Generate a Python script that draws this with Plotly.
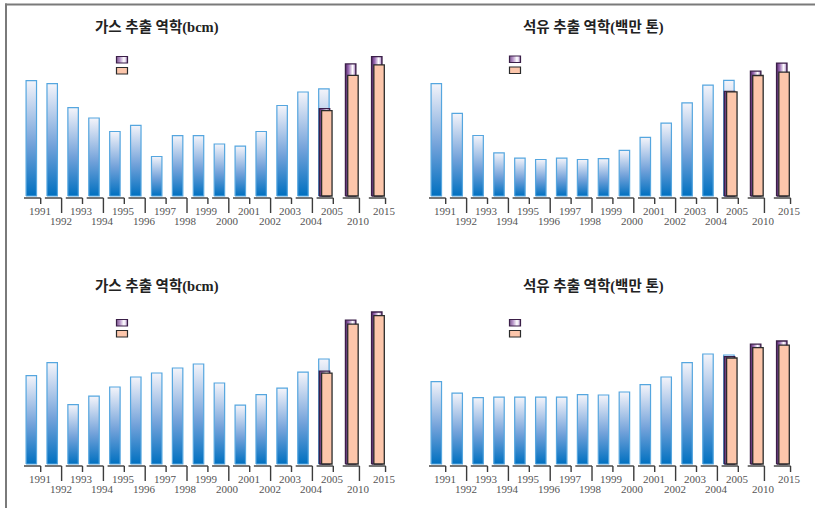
import plotly.graph_objects as go

W, H = 815, 508

# ---- data -------------------------------------------------------------
years_actual = list(range(1991, 2006))
years_forecast = [2005, 2010, 2015]

gas_top_actual = [644, 641, 618, 608, 595, 601, 571, 591, 591, 583, 581, 595, 620, 633, 636]
gas_top_low = [615, 649, 659]
gas_top_high = [617, 660, 667]

oil_top_actual = [463, 401, 355, 319, 308, 305, 308, 305, 307, 324, 351, 381, 423, 460, 470]
oil_top_low = [446, 480, 487]
oil_top_high = [447, 489, 506]

gas_bottom_actual = [44.2, 50.7, 29.7, 33.9, 38.5, 43.5, 45.5, 48.0, 50.0, 40.5, 29.4, 34.7, 37.9, 45.9, 52.5]
gas_bottom_low = [45.4, 69.9, 74.2]
gas_bottom_high = [46.4, 71.9, 76.0]

oil_bottom_actual = [41.2, 35.4, 33.2, 33.4, 33.4, 33.4, 33.4, 34.7, 34.5, 36.0, 39.7, 43.5, 50.7, 55.0, 54.5]
oil_bottom_low = [53.0, 58.2, 59.4]
oil_bottom_high = [53.7, 59.9, 61.5]

title_gas = "가스 추출 역학(bcm)"
title_oil = "석유 추출 역학(백만 톤)"

# ---- styling ----------------------------------------------------------
BLUE_SCALE = [[0, "#0070c0"], [0.45, "#73a2da"], [1, "#f4f4fa"]]
PURPLE_SCALE = [[0, "#55286a"], [0.3, "#9c6db4"], [0.68, "#ffffff"], [0.84, "#d9c5e6"], [1, "#6a3c84"]]
PEACH = "#fcc6ab"
BAR_W = 0.5
FORECAST_STEP = 1.25
LABEL_FONT = dict(family="Liberation Serif, DejaVu Serif, serif", size=11, color="#555555")
# Latin glyphs in a serif face, Hangul falls back to the CJK gothic
TITLE_FONT = dict(family="Liberation Serif, Noto Sans CJK KR, sans-serif", size=14.5, color="#222222")

PX_UNIT = 20.9          # pixels per category slot
BELOW_PX = 34           # room under the baseline for the bracket ticks


def slot(year):
    if year <= 2005:
        return year - 1991
    return 14 + FORECAST_STEP * ((year - 2005) // 5)


def hex2rgb(h):
    h = h.lstrip("#")
    return tuple(int(h[i:i + 2], 16) for i in (0, 2, 4))


def scale_color(scale, t):
    for (a, ca), (b, cb) in zip(scale[:-1], scale[1:]):
        if a <= t <= b:
            f = (t - a) / (b - a) if b > a else 0
            r1, r2 = hex2rgb(ca), hex2rgb(cb)
            return "rgb(%d,%d,%d)" % tuple(round(x + (y - x) * f) for x, y in zip(r1, r2))
    return scale[-1][1]


panels = [
    dict(actual=gas_top_actual, low=gas_top_low, high=gas_top_high, base=533, ppu=1.04,
         xoff=0, baseline=196, title=title_gas, tpos=(156.7, 27.3), lpos=(116.5, 56.5)),
    dict(actual=oil_top_actual, low=oil_top_low, high=oil_top_high, base=229, ppu=0.48,
         xoff=405, baseline=196, title=title_oil, tpos=(593.3, 27.5), lpos=(509.5, 56.0)),
    dict(actual=gas_bottom_actual, low=gas_bottom_low, high=gas_bottom_high, base=0, ppu=2.0,
         xoff=0, baseline=464, title=title_gas, tpos=(156.7, 286.7), lpos=(116.5, 319.5)),
    dict(actual=oil_bottom_actual, low=oil_bottom_low, high=oil_bottom_high, base=0, ppu=2.0,
         xoff=405, baseline=464, title=title_oil, tpos=(593.3, 286.7), lpos=(509.5, 319.5)),
]

fig = go.Figure()
shapes = []
annotations = []
layout_axes = {}


def bar_poly(xc, base, val):
    l, r = xc - BAR_W / 2, xc + BAR_W / 2
    return [l, r, r, l, l], [base, base, val, val, base]


for k, p in enumerate(panels, start=1):
    xa = "x" if k == 1 else "x%d" % k
    ya = "y" if k == 1 else "y%d" % k
    xname = "xaxis" if k == 1 else "xaxis%d" % k
    yname = "yaxis" if k == 1 else "yaxis%d" % k

    left_px, right_px = 10 + p["xoff"], 400 + p["xoff"]
    origin_px = 31.3 + p["xoff"]
    height_px = 160
    base = p["base"]
    ppu = p["ppu"]
    layout_axes[xname] = dict(
        domain=[left_px / W, right_px / W],
        range=[(left_px - origin_px) / PX_UNIT, (right_px - origin_px) / PX_UNIT],
        visible=False, fixedrange=True, anchor=ya,
    )
    layout_axes[yname] = dict(
        domain=[1 - (p["baseline"] + BELOW_PX) / H, 1 - (p["baseline"] - height_px) / H],
        range=[base - BELOW_PX / ppu, base + height_px / ppu],
        visible=False, fixedrange=True, anchor=xa,
    )

    # actual production bars (vertical blue gradient)
    for yr, v in zip(years_actual, p["actual"]):
        xs, ys = bar_poly(slot(yr), base, v)
        fig.add_trace(go.Scatter(
            x=xs, y=ys, xaxis=xa, yaxis=ya, mode="lines", fill="toself",
            fillgradient=dict(type="vertical", colorscale=BLUE_SCALE),
            line=dict(color="#55a6df", width=1.2), hoverinfo="skip", showlegend=False))

    # high-scenario forecast (purple cylinder)
    for yr, v in zip(years_forecast, p["high"]):
        xs, ys = bar_poly(slot(yr) + 0.03, base, v)
        fig.add_trace(go.Scatter(
            x=xs, y=ys, xaxis=xa, yaxis=ya, mode="lines", fill="toself",
            fillgradient=dict(type="horizontal", colorscale=PURPLE_SCALE),
            line=dict(color="#3b1f48", width=1.3), hoverinfo="skip", showlegend=False))

    # low-scenario forecast (peach)
    for yr, v in zip(years_forecast, p["low"]):
        xs, ys = bar_poly(slot(yr) + 0.14, base, v)
        fig.add_trace(go.Scatter(
            x=xs, y=ys, xaxis=xa, yaxis=ya, mode="lines", fill="toself",
            fillcolor=PEACH, line=dict(color="#2b2b2b", width=1.3),
            hoverinfo="skip", showlegend=False))

    # bracket ticks and staggered year labels
    for j, yr in enumerate(years_actual + [2010, 2015]):
        c = slot(yr)
        long_tick = (j % 2 == 1)
        y_h = base - 2 / ppu
        y_end = base - (17 if long_tick else 8) / ppu
        shapes.append(dict(type="line", xref=xa, yref=ya,
                           x0=c - 0.35, x1=c + 0.45, y0=y_h, y1=y_h,
                           line=dict(color="#3c3c3c", width=1.4)))
        shapes.append(dict(type="line", xref=xa, yref=ya,
                           x0=c + 0.45, x1=c + 0.45, y0=y_h, y1=y_end,
                           line=dict(color="#3c3c3c", width=1.4)))
        annotations.append(dict(x=c + 0.4, y=base, xref=xa, yref=ya, text=str(yr),
                                showarrow=False, yanchor="middle", xanchor="center",
                                yshift=-25 if long_tick else -15, font=LABEL_FONT))

    # panel title
    tx, ty = p["tpos"]
    annotations.append(dict(x=tx / W, y=1 - ty / H, xref="paper", yref="paper",
                            text="<b>%s</b>" % p["title"], showarrow=False,
                            xanchor="center", yanchor="middle", font=TITLE_FONT))

    # legend keys (no captions)
    lx, ly = p["lpos"]
    sw, sh = 11, 6.5
    n = 22
    for i in range(n):
        t0 = i / n
        shapes.append(dict(type="rect", xref="paper", yref="paper",
                           x0=(lx + sw * t0) / W, x1=(lx + sw * (i + 1) / n) / W,
                           y0=1 - (ly + sh) / H, y1=1 - ly / H,
                           fillcolor=scale_color(PURPLE_SCALE, (i + 0.5) / n), line=dict(width=0)))
    shapes.append(dict(type="rect", xref="paper", yref="paper",
                       x0=lx / W, x1=(lx + sw) / W, y0=1 - (ly + sh) / H, y1=1 - ly / H,
                       line=dict(color="#3b1f48", width=1.2)))
    shapes.append(dict(type="rect", xref="paper", yref="paper",
                       x0=lx / W, x1=(lx + sw) / W, y0=1 - (ly + 11 + sh) / H, y1=1 - (ly + 11) / H,
                       fillcolor=PEACH, line=dict(color="#2b2b2b", width=1.2)))

# outer frame (top and left rules)
shapes.append(dict(type="line", xref="paper", yref="paper", x0=5 / W, x1=1,
                   y0=1 - 4.5 / H, y1=1 - 4.5 / H, line=dict(color="#7a7a7a", width=2)))
shapes.append(dict(type="line", xref="paper", yref="paper", x0=6 / W, x1=6 / W,
                   y0=1 - 3.5 / H, y1=0, line=dict(color="#7a7a7a", width=2)))

fig.update_layout(
    width=W, height=H, margin=dict(l=0, r=0, t=0, b=0),
    paper_bgcolor="white", plot_bgcolor="white",
    shapes=shapes, annotations=annotations, showlegend=False,
    **layout_axes,
)

fig.write_html("out.html", config=dict(displayModeBar=False))
